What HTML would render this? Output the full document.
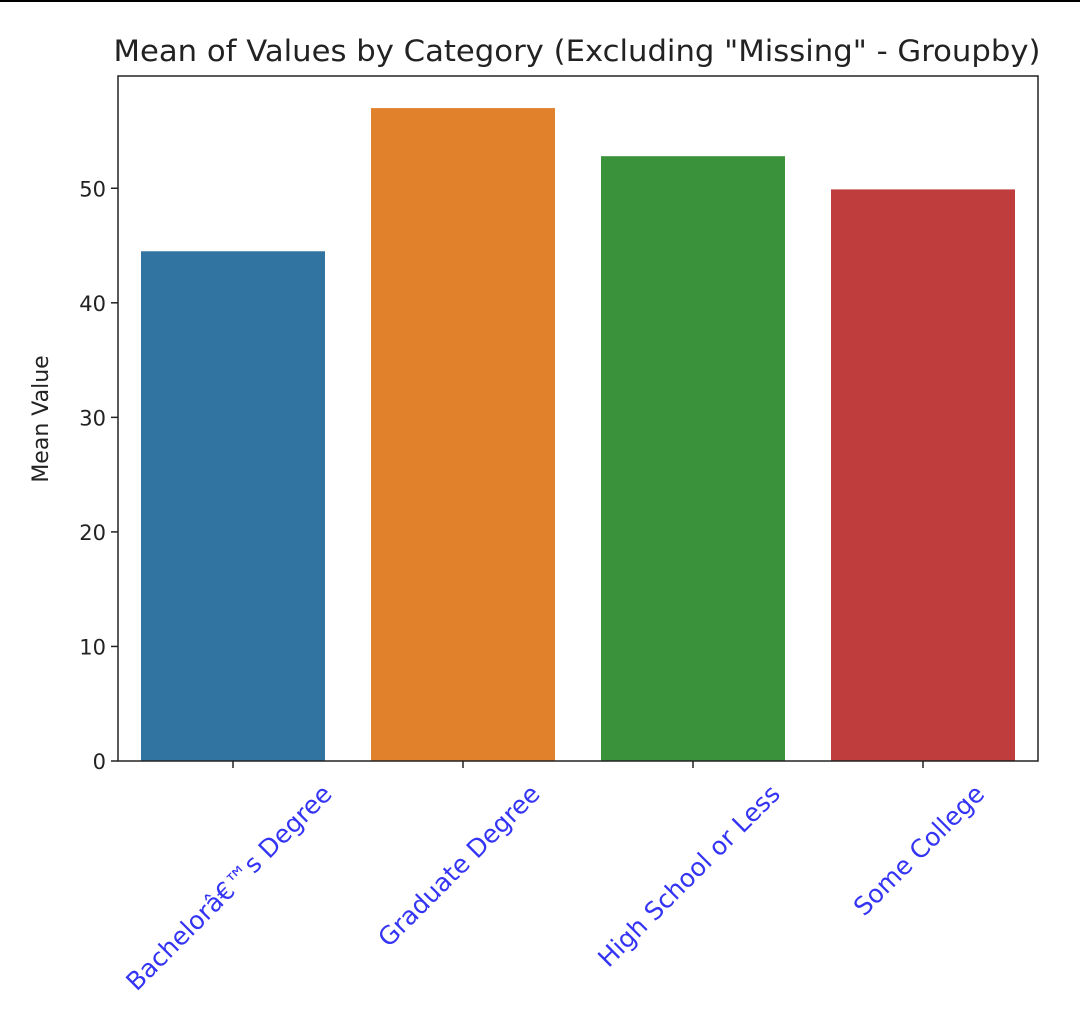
<!DOCTYPE html>
<html><head><meta charset="utf-8"><style>
html,body{margin:0;padding:0;background:#fff;}
svg text{font-family:"DejaVu Sans","Liberation Sans",sans-serif;}
</style></head><body>
<svg id="chart" width="1080" height="1007" viewBox="0 0 1080 1007" xmlns="http://www.w3.org/2000/svg">
<rect x="0" y="0" width="1080" height="2" fill="#000"/>
<text id="title" x="577" y="61" font-size="29" text-anchor="middle" fill="#222" textLength="927" lengthAdjust="spacingAndGlyphs">Mean of Values by Category (Excluding "Missing" - Groupby)</text>
<text transform="translate(48,419) rotate(-90)" font-size="22" text-anchor="middle" fill="#222">Mean Value</text>
<g id="bars"></g>
<g id="yticks"></g>
<g id="xticks"></g>
<rect x="118" y="76" width="920" height="685" fill="none" stroke="#222" stroke-width="1.5"/>
</svg>
<script>
const categories = ["Bachelorâ€™s Degree","Graduate Degree","High School or Less","Some College"];
const values = [44.5, 57.0, 52.8, 49.9];
const colors = ["#3274a1","#e1812c","#3a923a","#c03d3e"];
const yTicks = [0,10,20,30,40,50];
const ns="http://www.w3.org/2000/svg";
const L=118,R=1038,T=76,B=761;
const yMax=59.8;
function y(v){return B-(v/yMax)*(B-T);}
const band=(R-L)/categories.length;
function xc(i){return L+band*(i+0.5);}
const bars=document.getElementById('bars'),yt=document.getElementById('yticks'),xt=document.getElementById('xticks');
function mk(t,a){const e=document.createElementNS(ns,t);for(const k in a)e.setAttribute(k,a[k]);return e;}
values.forEach((v,i)=>{
 const r=mk('rect',{x:xc(i)-band*0.4,y:y(v),width:band*0.8,height:B-y(v),fill:colors[i]});
 
 
 bars.appendChild(r);
});
yTicks.forEach(t=>{
 const l=mk('line',{x1:L-7,x2:L,y1:y(t),y2:y(t),stroke:'#222','stroke-width':1.5});
 
 
 yt.appendChild(l);
 const tx=mk('text',{x:L-12,y:y(t)+8,'font-size':21,'text-anchor':'end',fill:'#222'});
 
 
 tx.textContent=t;yt.appendChild(tx);
});
categories.forEach((c,i)=>{
 const l=mk('line',{x1:xc(i),x2:xc(i),y1:B,y2:B+7,stroke:'#222','stroke-width':1.5});
 
 
 xt.appendChild(l);
 const tx=mk('text',{'font-size':25,'text-anchor':'middle','dominant-baseline':'central',fill:'#3434f4'});
 
 
 tx.textContent=c;xt.appendChild(tx);
 const len=tx.getComputedTextLength();
 const ay=B+22+(len+18)*0.3535;
 tx.setAttribute('x',xc(i)-4);tx.setAttribute('y',ay);
 tx.setAttribute('transform','rotate(-45 '+(xc(i)-4)+' '+ay+')');
});
</script>
</body></html>
